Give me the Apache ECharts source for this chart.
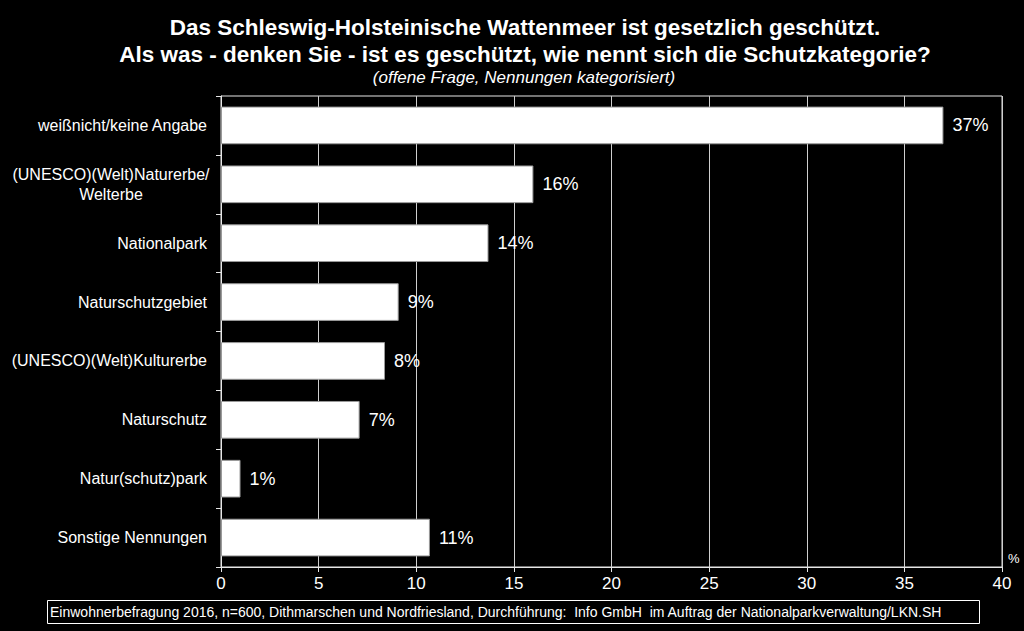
<!DOCTYPE html>
<html>
<head>
<meta charset="utf-8">
<script src="https://cdn.jsdelivr.net/npm/echarts@6/dist/echarts.min.js"></script>
<style>
html,body{margin:0;padding:0;background:#000;}
#chart{width:1024px;height:631px;}
</style>
</head>
<body>
<div id="chart"></div>
<script>
var titleLines = ["Das Schleswig-Holsteinische Wattenmeer ist gesetzlich geschützt.", "Als was - denken Sie - ist es geschützt, wie nennt sich die Schutzkategorie?"];
var subtitleText = "(offene Frage, Nennungen kategorisiert)";
var footerText = "Einwohnerbefragung 2016, n=600, Dithmarschen und Nordfriesland, Durchführung:  Info GmbH  im Auftrag der Nationalparkverwaltung/LKN.SH";
var categories = ["weißnicht/keine Angabe", "(UNESCO)(Welt)Naturerbe/\nWelterbe", "Nationalpark", "Naturschutzgebiet", "(UNESCO)(Welt)Kulturerbe", "Naturschutz", "Natur(schutz)park", "Sonstige Nennungen"];
var values = [37.0, 16.0, 13.7, 9.1, 8.4, 7.1, 1.0, 10.7];
var axisMin = 0, axisMax = 40, axisStep = 5;
var unitLabel = "%";

var FONT = "Liberation Sans, Arial, Helvetica, sans-serif";
var chart = echarts.init(document.getElementById('chart'), null, {renderer: 'svg'});
var titleStyle = {color: '#fff', fontFamily: FONT, fontWeight: 'bold', fontSize: 22.5, lineHeight: 27};
chart.setOption({
  backgroundColor: '#000',
  animation: false,
  title: [
    {text: titleLines[0], left: 525, top: 13.5, padding: 0, textAlign: 'center', textStyle: titleStyle},
    {text: titleLines[1], left: 525, top: 40.5, padding: 0, textAlign: 'center', textStyle: titleStyle},
    {text: subtitleText, left: 524, top: 67, padding: 0, textAlign: 'center',
     textStyle: {color: '#fff', fontFamily: FONT, fontStyle: 'italic', fontWeight: 'normal', fontSize: 17, lineHeight: 20}}
  ],
  grid: {left: 221, right: 22, top: 96, bottom: 64, show: true, borderColor: '#e6e6e6', borderWidth: 1, containLabel: false},
  xAxis: {
    type: 'value', min: axisMin, max: axisMax, interval: axisStep,
    axisLine: {show: true, lineStyle: {color: '#e6e6e6', width: 1}},
    axisTick: {show: true, length: 5, lineStyle: {color: '#e6e6e6'}},
    axisLabel: {color: '#fff', fontFamily: FONT, fontSize: 17, margin: 8},
    splitLine: {show: true, lineStyle: {color: '#cfcfcf', width: 1}}
  },
  yAxis: {
    type: 'category', data: categories, inverse: true,
    axisLine: {show: true, lineStyle: {color: '#e6e6e6', width: 1}},
    axisTick: {show: true, length: 5, inside: false, lineStyle: {color: '#e6e6e6'}},
    axisLabel: {
      color: '#fff', fontFamily: FONT, fontSize: 16, margin: 14, lineHeight: 20,
      formatter: function (v) {
        if (v.indexOf('\n') >= 0) {
          return v.split('\n').map(function (l) { return '{c|' + l + '}'; }).join('\n');
        }
        return v;
      },
      rich: {c: {width: 192, align: 'center', color: '#fff', fontFamily: FONT, fontSize: 16, lineHeight: 20}}
    },
    splitLine: {show: false}
  },
  series: [{
    type: 'bar', data: values, barCategoryGap: '36%',
    itemStyle: {color: '#ffffff', borderColor: '#9a9a9a', borderWidth: 1},
    label: {show: true, position: 'right', distance: 9, color: '#fff', fontFamily: FONT, fontSize: 18,
      formatter: function (p) { return Math.round(p.value) + '%'; }}
  }],
  graphic: [
    {type: 'rect', shape: {x: 47.5, y: 600.5, width: 932, height: 23}, style: {fill: 'none', stroke: '#fff', lineWidth: 1}},
    {type: 'text', x: 50, y: 612, style: {text: footerText, fill: '#fff', font: '14px ' + FONT, verticalAlign: 'middle', align: 'left'}},
    {type: 'text', x: 1008, y: 558, style: {text: unitLabel, fill: '#fff', font: '13px ' + FONT, verticalAlign: 'middle', align: 'left'}}
  ]
});
</script>
</body>
</html>
